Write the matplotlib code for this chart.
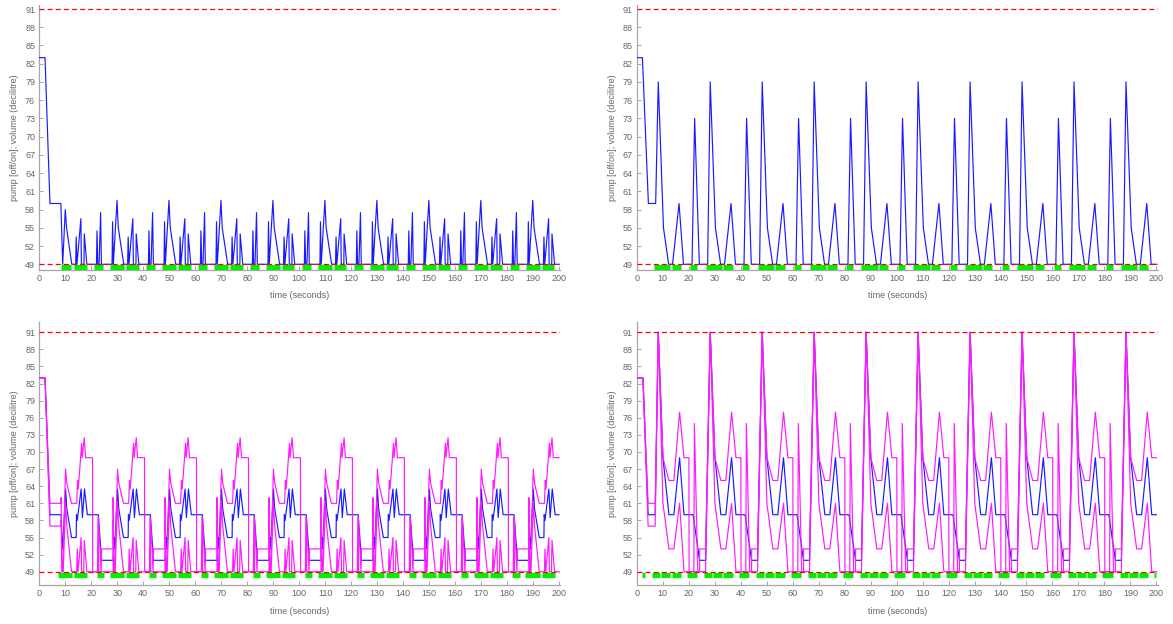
import matplotlib.pyplot as plt
import numpy as np

# ---- values ----
x_ticks = list(range(0, 201, 10))
y_ticks = list(range(49, 92, 3))
limit_low = 49
limit_high = 91
pump_level = 48.5
t_end = 200

# top-left: start-up, then one 20 s cycle that repeats
tl_init_t = [0, 2.2, 4.1, 8.3, 9.0, 10.0, 10.5, 12.5]
tl_init_v = [83, 83, 59, 59, 49, 58, 55, 49]
tl_starts = [12.5, 32.5, 52.5, 72.5, 92.5, 112.5, 132.5, 152.5, 172.5, 192.5]
tl_cyc_t = [1.5, 1.7, 2.0, 3.5, 3.7, 4.7, 4.8, 5.8, 9.5, 9.7, 10.0, 10.5, 11.1, 11.4,
            15.5, 15.7, 16.0, 17.4, 17.9, 20.0]
tl_cyc_v = [49, 53.5, 49, 56.5, 49, 49, 54, 49, 49, 54.5, 49, 49, 57.5, 49,
            49, 56, 49, 59.5, 55, 49]
tl_end_v = 49
tl_pump_init = [(8.3, 12.2)]
tl_pump_cyc = [(0.8, 5.7), (8.7, 12.1), (14.7, 20.1)]

# top-right
tr_init_t = [0, 2.2, 4.5, 7.3]
tr_init_v = [83, 83, 59, 59]
tr_starts = [7.3, 27.3, 47.3, 67.3, 87.3, 107.3, 127.3, 147.3, 167.3, 187.3]
tr_cyc_t = [1.0, 3.0, 5.0, 6.5, 9.0, 10.7, 14.0, 15.0, 16.8, 20.0]
tr_cyc_v = [79, 55, 49, 49, 59, 49, 49, 73, 49, 49]
tr_end_v = 49
tr_pump_init = []
tr_pump_cyc = [(-0.8, 5.4), (6.1, 9.6), (13.2, 16.0)]

# bottom-left: middle estimate (blue) and upper / lower bounds (magenta)
bl_init_t = [0, 2.2, 4.1, 8.4]
bl_init_mid = [83, 83, 59, 59]
bl_init_up = [83, 83, 61, 61]
bl_init_lo = [83, 83, 57, 57]
bl_starts = [8.4, 28.4, 48.4, 68.4, 88.4, 108.4, 128.4, 148.4, 168.4, 188.4]
bl_mid_t = [0.3, 0.6, 1.7, 2.2, 4.0, 5.8, 5.9, 6.2, 7.7, 8.2, 9.0, 10.1, 14.3, 15.6, 20.0]
bl_mid_v = [55, 53, 63.5, 60, 55, 55, 59, 58, 63.5, 58.5, 63.5, 59, 59, 51, 51]
bl_up_t = [0.0, 0.3, 0.6, 1.7, 2.2, 4.0, 6.0, 6.3, 6.6, 7.9, 8.1, 8.9, 9.4, 12.1, 12.15,
           14.2, 14.4, 15.4, 15.6, 20.0]
bl_up_v = [62, 49, 49, 67, 64.5, 61, 61, 65, 63.5, 71.5, 69, 72.5, 69, 69, 49,
           49, 58.5, 49, 53, 53]
bl_lo_t = [0.0, 0.3, 0.8, 1.7, 2.2, 4.0, 6.0, 6.2, 6.5, 7.7, 7.9, 8.7, 8.9, 9.9,
           14.0, 14.2, 14.5, 20.0]
bl_lo_v = [58, 49, 49, 61, 57, 49, 49, 53, 49, 55, 49, 49, 54.5, 49,
           49, 58.5, 49, 49]
bl_end = (59, 69, 49)
bl_pump_init = []
bl_pump_cyc = [(-1.3, 4.3), (5.0, 10.1), (13.7, 16.5)]

# bottom-right
br_init_t = [0, 2.4, 4.4, 7.1]
br_init_mid = [83, 83, 59, 59]
br_init_up = [83, 83, 61, 61]
br_init_lo = [83, 83, 57, 57]
br_starts = [7.1, 27.1, 47.1, 67.1, 87.1, 107.1, 127.1, 147.1, 167.1, 187.1]
br_mid_t = [1.2, 3.0, 5.3, 7.2, 9.4, 11.1, 14.6, 17.1, 19.4]
br_mid_v = [91, 69, 59, 59, 69, 59, 59, 51, 51]
br_up_t = [1.2, 3.0, 5.3, 7.2, 9.4, 11.1, 13.0, 13.05, 14.9, 15.1, 16.4, 17.1, 17.15, 19.4]
br_up_v = [91, 69, 65, 65, 77, 69, 69, 49, 49, 75, 49, 49, 53, 53]
br_lo_t = [1.2, 3.0, 5.3, 7.2, 9.4, 11.1, 19.4]
br_lo_v = [91, 61, 53, 53, 61, 49, 49]
br_end = (59, 69, 49)
br_pump_init = [(2.1, 3.1)]
br_pump_cyc = [(-1.2, 1.9), (2.2, 5.9), (6.3, 9.8), (12.1, 16.1)]


def series(init_t, init_v, starts, cyc_t, cyc_v, end_v):
    t = list(init_t)
    v = list(init_v)
    for s in starts:
        t += [s + c for c in cyc_t]
        v += list(cyc_v)
    t = np.array(t)
    v = np.array(v, dtype=float)
    keep = t < t_end
    return np.append(t[keep], t_end), np.append(v[keep], end_v)


def pumps(init, starts, cyc):
    out = list(init)
    for s in starts:
        out += [(s + a, s + b) for a, b in cyc]
    out = [(max(a, 0), min(b, t_end)) for a, b in out if a < t_end]
    return out


def style(ax, ylim):
    ax.set_xlim(0, 200.5)
    ax.set_ylim(*ylim)
    ax.set_xticks(x_ticks)
    ax.set_yticks(y_ticks)
    for s in ['top', 'right']:
        ax.spines[s].set_visible(False)
    for s in ['left', 'bottom']:
        ax.spines[s].set_color('#a6a6a6')
        ax.spines[s].set_linewidth(0.9)
    ax.tick_params(colors='#a6a6a6', labelcolor='#666666', labelsize=6.5,
                   length=3, width=0.7, direction='in', pad=3)
    ax.set_xlabel('time (seconds)', color='#666666', fontsize=6.5, labelpad=6)
    ax.set_ylabel('pump [off/on]; volume (decilitre)', color='#666666',
                  fontsize=6.5, labelpad=4)
    ax.axhline(limit_low, color='#ff0000', lw=0.9, dashes=(4, 2.5), zorder=5)
    ax.axhline(limit_high, color='#ff0000', lw=0.9, dashes=(4, 2.5), zorder=5)


def draw_pump(ax, intervals):
    a = [p[0] for p in intervals]
    b = [p[1] for p in intervals]
    ax.hlines([pump_level] * len(a), a, b, colors='#00ee00', lw=3.8, zorder=4)


plt.rcParams['font.family'] = ['Liberation Sans', 'DejaVu Sans']
fig = plt.figure(figsize=(11.73, 6.24), dpi=100)
W, H = 1173, 624
top_ylim = (48.06, 91.66)
bot_ylim = (46.67, 92.8)
ax_tl = fig.add_axes([39.3 / W, 1 - 270 / H, 521 / W, 265 / H])
ax_tr = fig.add_axes([636.7 / W, 1 - 270 / H, 521 / W, 265 / H])
ax_bl = fig.add_axes([39.3 / W, 1 - 585 / H, 521 / W, 263 / H])
ax_br = fig.add_axes([636.7 / W, 1 - 585 / H, 521 / W, 263 / H])

blue = '#1a1aff'
magenta = '#ff1aff'
lw = 0.85

# top-left
t, v = series(tl_init_t, tl_init_v, tl_starts, tl_cyc_t, tl_cyc_v, tl_end_v)
ax_tl.plot(t, v, color=blue, lw=lw, zorder=3)
draw_pump(ax_tl, pumps(tl_pump_init, tl_starts, tl_pump_cyc))
style(ax_tl, top_ylim)

# top-right
t, v = series(tr_init_t, tr_init_v, tr_starts, tr_cyc_t, tr_cyc_v, tr_end_v)
ax_tr.plot(t, v, color=blue, lw=lw, zorder=3)
draw_pump(ax_tr, pumps(tr_pump_init, tr_starts, tr_pump_cyc))
style(ax_tr, top_ylim)

# bottom-left
t, v = series(bl_init_t, bl_init_mid, bl_starts, bl_mid_t, bl_mid_v, bl_end[0])
ax_bl.plot(t, v, color=blue, lw=lw, zorder=3)
t, v = series(bl_init_t, bl_init_up, bl_starts, bl_up_t, bl_up_v, bl_end[1])
ax_bl.plot(t, v, color=magenta, lw=lw, zorder=3)
t, v = series(bl_init_t, bl_init_lo, bl_starts, bl_lo_t, bl_lo_v, bl_end[2])
ax_bl.plot(t, v, color=magenta, lw=lw, zorder=3)
draw_pump(ax_bl, pumps(bl_pump_init, bl_starts, bl_pump_cyc))
style(ax_bl, bot_ylim)

# bottom-right
t, v = series(br_init_t, br_init_mid, br_starts, br_mid_t, br_mid_v, br_end[0])
ax_br.plot(t, v, color=blue, lw=lw, zorder=3)
t, v = series(br_init_t, br_init_up, br_starts, br_up_t, br_up_v, br_end[1])
ax_br.plot(t, v, color=magenta, lw=lw, zorder=3)
t, v = series(br_init_t, br_init_lo, br_starts, br_lo_t, br_lo_v, br_end[2])
ax_br.plot(t, v, color=magenta, lw=lw, zorder=3)
draw_pump(ax_br, pumps(br_pump_init, br_starts, br_pump_cyc))
style(ax_br, bot_ylim)

fig.savefig('out.png', dpi=100)
